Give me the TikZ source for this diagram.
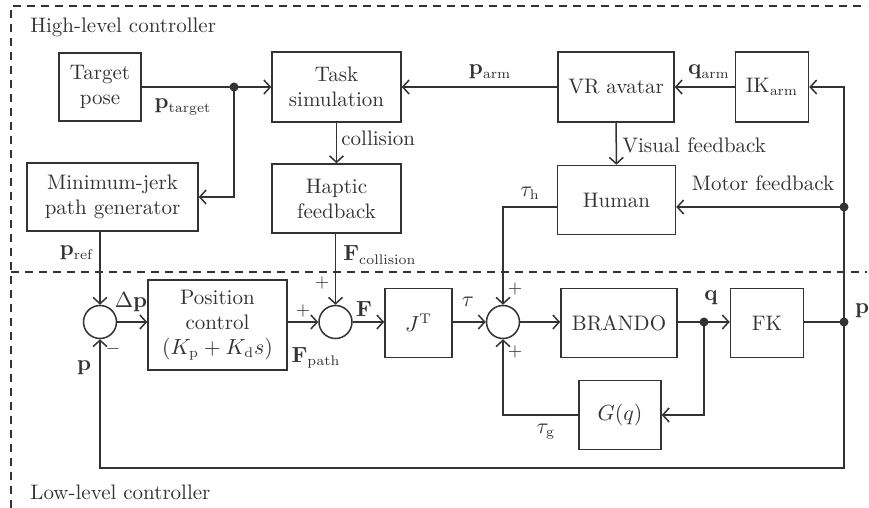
\documentclass[tikz,border=0pt]{standalone}
\usepackage{tikz}
\usetikzlibrary{arrows.meta,positioning,calc}
\colorlet{linec}{black!80}

\begin{document}
\begin{tikzpicture}
  [
    x=0.5pt, y=-0.5pt,
    font=\fontsize{10.5}{12.5}\selectfont,
    Block/.style={rectangle, draw=linec, line width=0.75pt, align=center, text=linec, inner sep=1pt},
    Sum/.style={circle, draw=linec, line width=0.75pt, minimum size=16.5pt, inner sep=0pt},
    Lbl/.style={text=linec, inner sep=1pt},
    Sign/.style={text=linec, inner sep=0pt, font=\small},
    Wire/.style={draw=linec, line width=0.75pt},
    Arrow/.style={Wire, -{Straight Barb[length=3.2pt,width=7pt]}},
    Frame/.style={draw=linec, line width=0.6pt, dash pattern=on 4pt off 3pt}
  ]
  \useasboundingbox (0,0) rectangle (869,508);
  % Frame
  \draw[Frame] (11,508) |- (867,6);
  \draw[Frame] (11,272) -- (867,272);
  \node[Lbl, anchor=west] (hilevel) at (28,27) {High-level controller};
  \node[Lbl, anchor=west] (lolevel) at (28,492) {Low-level controller};
  % High-level blocks
  \node[Block, minimum width=41pt, minimum height=34pt] (target) at (100,87) {Target\\pose};
  \node[Block, minimum width=64.5pt, minimum height=35pt] (tasksim) at (336.5,87) {Task\\simulation};
  \node[Block, minimum width=58pt, minimum height=35pt] (vravatar) at (616,87) {VR avatar};
  \node[Block, minimum width=36.5pt, minimum height=35pt] (ikarm) at (772,87) {IK$_\mathrm{arm}$};
  \node[Block, minimum width=85.5pt, minimum height=34pt] (minjerk) at (112.5,197) {Minimum-jerk\\path generator};
  \node[Block, minimum width=64.5pt, minimum height=34.5pt] (haptic) at (336.5,198.5) {Haptic\\feedback};
  \node[Block, minimum width=59pt, minimum height=34.5pt] (human) at (616.5,200) {Human};
  % Low-level blocks
  \node[Sum] (sumref) at (100,322) {};
  \node[Block, minimum width=69.5pt, minimum height=45pt] (posctrl) at (217.5,325) {Position\\control\\$(K_\mathrm{p} + K_\mathrm{d}s)$};
  \node[Sum] (sumforce) at (335.5,322) {};
  \node[Block, minimum width=33.5pt, minimum height=34.5pt] (jt) at (418.5,323) {$J^\mathrm{T}$};
  \node[Sum] (sumtorque) at (503,322) {};
  \node[Block, minimum width=58pt, minimum height=34.5pt] (brando) at (619,323) {BRANDO};
  \node[Block, minimum width=36.5pt, minimum height=34.5pt] (fk) at (767,323) {FK};
  \node[Block, minimum width=41pt, minimum height=34.5pt] (gq) at (620,415) {$G(q)$};
  % Junctions
  \coordinate (ptdot) at (234,87);
  \coordinate (mfdot) at (844,207);
  \coordinate (qdot) at (704,322);
  \coordinate (pdot) at (844,322);
  \foreach \d in {ptdot,mfdot,qdot,pdot}
    \fill[linec] (\d) circle (4.5);
  % Lines
  \path[Arrow] (target) -- (tasksim);
  \path[Arrow] (ptdot) |- (minjerk.east);
  \path[Arrow] (vravatar) -- (tasksim);
  \path[Arrow] (ikarm) -- (vravatar);
  \path[Arrow] (tasksim) -- (haptic);
  \path[Arrow] (vravatar) -- (human);
  \path[Arrow] (pdot) |- (ikarm.east);
  \path[Arrow] (mfdot) -- (mfdot -| human.east);
  \path[Arrow] (human.west |- mfdot) -| (sumtorque.north);
  \path[Arrow] (sumref |- minjerk.south) -- (sumref.north);
  \path[Arrow] (haptic.south -| sumforce) -- (sumforce.north);
  \path[Arrow] (sumref) -- (sumref -| posctrl.west);
  \path[Arrow] (posctrl.east |- sumforce) -- (sumforce.west);
  \path[Arrow] (sumforce) -- (sumforce -| jt.west);
  \path[Arrow] (jt.east |- sumtorque) -- (sumtorque.west);
  \path[Arrow] (sumtorque) -- (sumtorque -| brando.west);
  \path[Wire] (brando.east |- qdot) -- (qdot);
  \path[Arrow] (qdot) -- (qdot -| fk.west);
  \path[Wire] (fk.east |- pdot) -- (pdot);
  \path[Arrow] (qdot) |- (gq.east);
  \path[Arrow] (gq.west) -| (sumtorque.south);
  \path[Arrow] (pdot) -- ++(0,146) -| (sumref.south);
  % Labels
  \node[Lbl] (ptargetlbl) at (183,107) {$\mathbf{p}_\mathrm{target}$};
  \node[Lbl, anchor=west] (collisionlbl) at (339,138) {collision};
  \node[Lbl] (parmlbl) at (490,72) {$\mathbf{p}_\mathrm{arm}$};
  \node[Lbl] (qarmlbl) at (709,72) {$\mathbf{q}_\mathrm{arm}$};
  \node[Lbl, anchor=west] (visuallbl) at (620,145) {Visual feedback};
  \node[Lbl] (motorlbl) at (763,183) {Motor feedback};
  \node[Lbl] (tauhlbl) at (530,193) {$\tau_\mathrm{h}$};
  \node[Lbl] (preflbl) at (77,253) {$\mathbf{p}_\mathrm{ref}$};
  \node[Lbl, anchor=west] (fcollbl) at (341,255) {$\mathbf{F}_\mathrm{collision}$};
  \node[Lbl] (dplbl) at (131,302) {$\Delta\mathbf{p}$};
  \node[Lbl] (fpathlbl) at (316,358) {$\mathbf{F}_\mathrm{path}$};
  \node[Lbl] (flbl) at (364,309) {$\mathbf{F}$};
  \node[Lbl] (taulbl) at (468,302) {$\tau$};
  \node[Lbl] (qlbl) at (711,298) {$\mathbf{q}$};
  \node[Lbl] (plbl) at (862,311) {$\mathbf{p}$};
  \node[Lbl] (pfblbl) at (84,368) {$\mathbf{p}$};
  \node[Lbl] (tauglbl) at (546,432) {$\tau_\mathrm{g}$};
  \node[Sign] (sgnpath) at (303,311) {$+$};
  \node[Sign] (sgncol) at (322,283) {$+$};
  \node[Sign] (sgnfb) at (113,349) {$-$};
  \node[Sign] (sgnh) at (515,289) {$+$};
  \node[Sign] (sgng) at (515,352) {$+$};
\end{tikzpicture}
\end{document}
